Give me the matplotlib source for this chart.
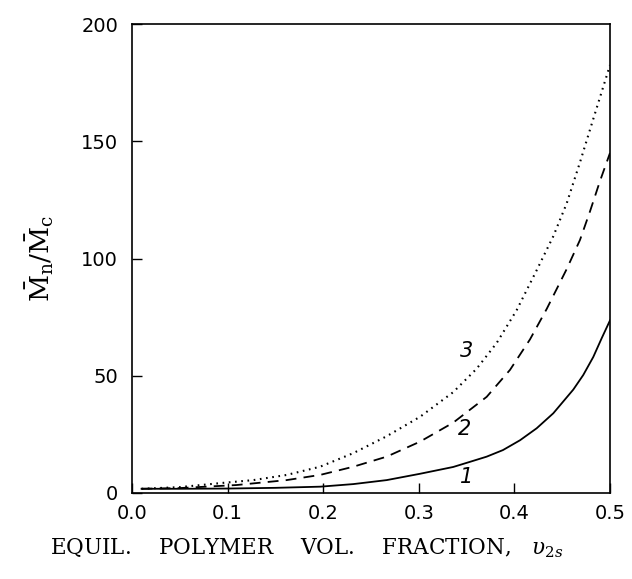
import matplotlib
matplotlib.use("Agg")
import matplotlib.pyplot as plt

plt.rcParams["mathtext.fontset"] = "dejavuserif"

# data
x1 = [0.01, 0.05, 0.10, 0.15, 0.197, 0.2315, 0.2664, 0.3013, 0.336, 0.3536, 0.371, 0.388, 0.4059,
      0.4233, 0.4407, 0.4616, 0.472, 0.4825, 0.4913, 0.50]
curve1 = [1.8, 1.8, 1.9, 2.2, 2.7, 3.8, 5.5, 8.2, 11.1, 13.3, 15.5, 18.3, 22.5,
          27.6, 34.0, 44.1, 50.3, 58.0, 66.0, 73.6]

x2 = [0.01, 0.05, 0.1095, 0.1618, 0.1967, 0.2315, 0.2664, 0.3013, 0.336, 0.371, 0.3954, 0.4163,
      0.4338, 0.4547, 0.4686, 0.479, 0.4895, 0.50]
curve2 = [1.8, 2.1, 3.4, 5.5, 7.7, 11.2, 15.5, 21.9, 30.0, 41.0, 52.5, 65.5,
          78.5, 95.5, 107.9, 120.0, 133.0, 145.0]

x3 = [0.01, 0.05, 0.092, 0.127, 0.1618, 0.1967, 0.2315, 0.2664, 0.3013, 0.336, 0.3605, 0.3815,
      0.4024, 0.4233, 0.4407, 0.4547, 0.4686, 0.4825, 0.50]
curve3 = [1.8, 2.5, 4.2, 5.5, 7.7, 11.2, 17.0, 24.2, 32.5, 43.0, 53.0, 64.0,
          78.0, 95.0, 109.5, 123.5, 141.0, 159.5, 182.5]

curve_labels = ["1", "2", "3"]
label_pos = [(0.35, 6.9), (0.348, 27.5), (0.35, 60.4)]

xticks = [0.0, 0.1, 0.2, 0.3, 0.4, 0.5]
xtick_labels = ["0.0", "0.1", "0.2", "0.3", "0.4", "0.5"]
yticks = [0, 50, 100, 150, 200]
ytick_labels = ["0", "50", "100", "150", "200"]

fig = plt.figure(figsize=(6.32, 5.79), dpi=100)
ax = fig.add_axes([132/632, 1-493/579, (610-132)/632, (493-24)/579])

ax.plot(x1, curve1, color="black", lw=1.3, ls="-")
ax.plot(x2, curve2, color="black", lw=1.3, ls=(0, (6, 4)))
ax.plot(x3, curve3, color="black", lw=1.5, ls=(0, (0.8, 2.2)))

for lab, (lx, ly) in zip(curve_labels, label_pos):
    ax.text(lx, ly, lab, fontsize=15, style="italic", family="DejaVu Sans",
            ha="center", va="center")

ax.set_xlim(0, 0.5)
ax.set_ylim(0, 200)
ax.set_xticks(xticks)
ax.set_xticklabels(xtick_labels)
ax.set_yticks(yticks)
ax.set_yticklabels(ytick_labels)
ax.tick_params(direction="in", length=7, width=1, labelsize=14)
ax.tick_params(axis="x", pad=8)
ax.tick_params(axis="y", pad=10)
for s in ax.spines.values():
    s.set_linewidth(1.2)

ax.set_ylabel(r"$\bar{\mathrm{M}}_{\mathrm{n}}/\bar{\mathrm{M}}_{\mathrm{c}}$",
              fontsize=19)
ax.yaxis.set_label_coords(-0.16, 0.5)

fig.text(50/632, 1-548/579, r"EQUIL.    POLYMER    VOL.    FRACTION,   $\upsilon_{2s}$",
         family="DejaVu Serif", fontsize=15.5, ha="left", va="center")

fig.savefig("out.png", dpi=100)
